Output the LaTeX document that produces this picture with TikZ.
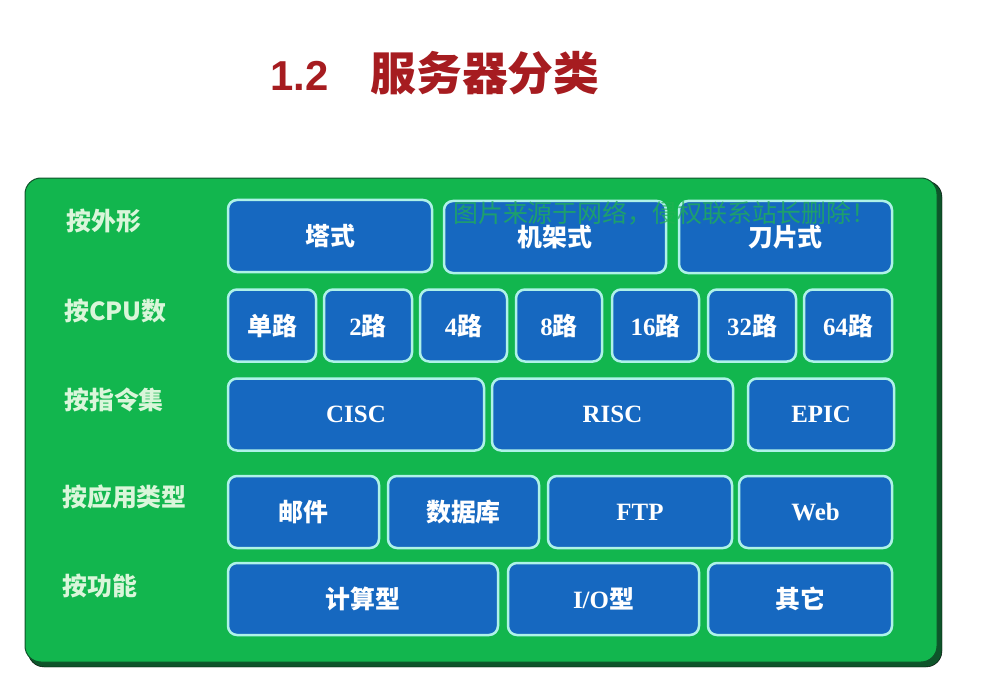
\documentclass[tikz,border=0pt]{standalone}
\usepackage{fontspec}
\setmainfont{Liberation Serif}
\newfontfamily\cjk{Noto Sans CJK SC}
\newfontfamily\hei{Liberation Sans}
\usetikzlibrary{positioning}

\definecolor{panelgreen}{RGB}{18,182,78}
\definecolor{paneledge}{RGB}{14,84,42}
\definecolor{boxblue}{RGB}{22,104,192}
\definecolor{boxline}{RGB}{175,242,232}
\definecolor{titlered}{RGB}{166,28,32}
\definecolor{labelgreen}{RGB}{218,246,218}
\definecolor{markgreen}{RGB}{32,178,82}

\begin{document}
\begin{tikzpicture}[x=1bp, y=-1bp,
    sortbox/.style={draw=boxline, line width=2.5bp, fill=boxblue, rounded corners=9bp,
        text=white, inner sep=0pt, minimum height=72bp,
        font=\fontsize{25}{28}\selectfont\bfseries},
    rowlabel/.style={anchor=west, inner sep=0pt, text=labelgreen,
        font=\cjk\fontsize{25}{28}\selectfont\bfseries}]
                \useasboundingbox (0,0) rectangle (985,689);

                % titel
                \node[anchor=west, text=titlered, inner sep=0pt] (title) at (270,73)
                    {{\hei\bfseries\fontsize{42}{46}\selectfont 1.2}\hspace{42bp}{\cjk\bfseries\fontsize{46}{50}\selectfont 服务器分类}};

                % zelena ploca
                \draw[fill=paneledge, rounded corners=16bp] (28,181) rectangle (942,667);
                \draw[fill=panelgreen, draw=paneledge, line width=1bp, rounded corners=16bp] (25,178) rectangle (937,662);

                % oznake redova
                \node[rowlabel] (lshape) at (66,221) {按外形};
                \node[rowlabel] (lcpu)   at (64,311) {按CPU数};
                \node[rowlabel] (lisa)   at (64,400) {按指令集};
                \node[rowlabel] (lapp)   at (62,497) {按应用类型};
                \node[rowlabel] (lfunc)  at (62,586) {按功能};

                % po obliku
                \node[sortbox, minimum width=204bp] (tower) at (330,236)   {\cjk 塔式};
                \node[sortbox, minimum width=222bp] (rack)  at (555,237)   {\cjk 机架式};
                \node[sortbox, minimum width=213bp] (blade) at (785.5,237) {\cjk 刀片式};

                % po broju CPU
                \node[sortbox, minimum width=88bp] (cpu1)  at (272,325.5)   {\cjk 单路};
                \node[sortbox, minimum width=88bp] (cpu2)  at (368,325.5)   {2{\cjk 路}};
                \node[sortbox, minimum width=87bp] (cpu4)  at (463.5,325.5) {4{\cjk 路}};
                \node[sortbox, minimum width=86bp] (cpu8)  at (559,325.5)   {8{\cjk 路}};
                \node[sortbox, minimum width=87bp] (cpu16) at (655.5,325.5) {16{\cjk 路}};
                \node[sortbox, minimum width=88bp] (cpu32) at (752,325.5)   {32{\cjk 路}};
                \node[sortbox, minimum width=88bp] (cpu64) at (848,325.5)   {64{\cjk 路}};

                % po skupu instrukcija
                \node[sortbox, minimum width=256bp] (cisc) at (356,414.5)   {CISC};
                \node[sortbox, minimum width=241bp] (risc) at (612.5,414.5) {RISC};
                \node[sortbox, minimum width=146bp] (epic) at (821,414.5)   {EPIC};

                % po primjeni
                \node[sortbox, minimum width=151bp] (mail) at (303.5,512) {\cjk 邮件};
                \node[sortbox, minimum width=151bp] (db)   at (463.5,512) {\cjk 数据库};
                \node[sortbox, minimum width=184bp] (ftp)  at (640,512)   {FTP};
                \node[sortbox, minimum width=153bp] (web)  at (815.5,512) {Web};

                % po funkciji
                \node[sortbox, minimum width=270bp] (comp)  at (363,599)   {\cjk 计算型};
                \node[sortbox, minimum width=191bp] (io)    at (603.5,599) {I/O{\cjk 型}};
                \node[sortbox, minimum width=184bp] (other) at (800,599)   {\cjk 其它};

                % vodeni zig
                \node[anchor=west, text=markgreen, opacity=0.75, inner sep=0pt,
                    font=\cjk\fontsize{25}{28}\selectfont] (mark) at (453,213)
                    {图片来源于网络，侵权联系站长删除！};
            \end{tikzpicture}
\end{document}
